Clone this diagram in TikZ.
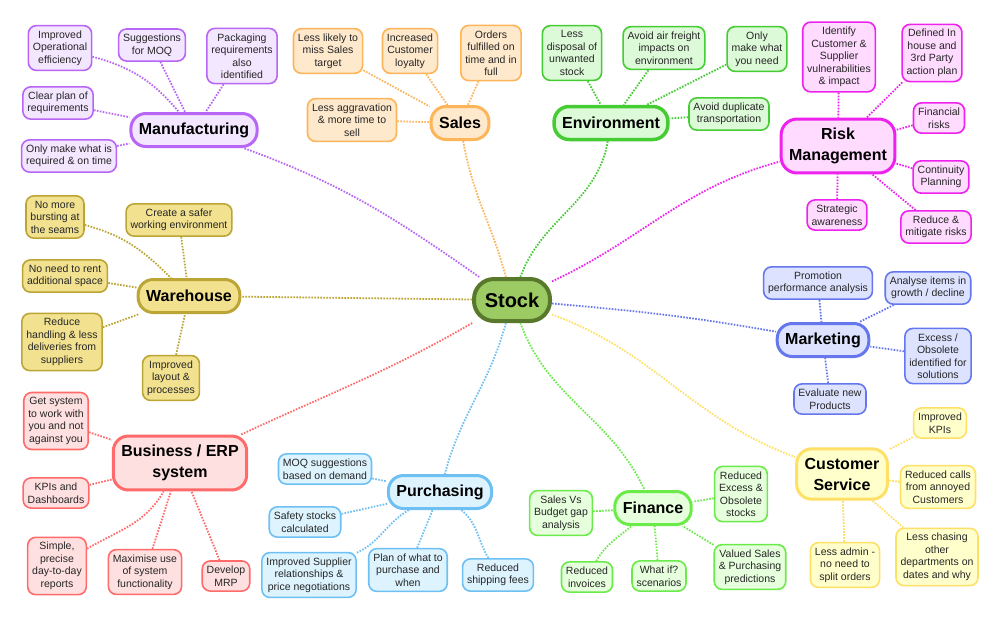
\documentclass[tikz,border=0pt]{standalone}
\usepackage{fontspec}
\setmainfont{Liberation Sans}

\definecolor{stockD}{HTML}{58782C}
\definecolor{stockF}{HTML}{9CCB63}
\definecolor{manuD}{HTML}{B866F5}
\definecolor{manuF}{HTML}{F3E6FF}
\definecolor{salesD}{HTML}{FDB55A}
\definecolor{salesF}{HTML}{FFE9CC}
\definecolor{envD}{HTML}{45CC33}
\definecolor{envF}{HTML}{DDFAD8}
\definecolor{riskD}{HTML}{EE22EE}
\definecolor{riskF}{HTML}{FFDBFF}
\definecolor{wareD}{HTML}{BBA535}
\definecolor{wareF}{HTML}{F2E290}
\definecolor{mktD}{HTML}{6677EE}
\definecolor{mktF}{HTML}{DDE3FF}
\definecolor{custD}{HTML}{FFE066}
\definecolor{custF}{HTML}{FFFFCC}
\definecolor{erpD}{HTML}{FF6B6B}
\definecolor{erpF}{HTML}{FFE0E0}
\definecolor{purD}{HTML}{6EC0F2}
\definecolor{purF}{HTML}{DDF4FF}
\definecolor{finD}{HTML}{6BEB4A}
\definecolor{finF}{HTML}{E6FFDD}

\begin{document}
\begin{tikzpicture}[x=1pt, y=1pt,
	leaf/.style={draw=#1D, fill=#1F, line width=1.6pt, rounded corners=8pt, align=center,
		inner xsep=4.5pt, inner ysep=5pt, text=black!85, font=\fontsize{10.5}{12.5}\selectfont},
	topic/.style={draw=#1D, fill=#1F, line width=3pt, rounded corners=15pt, align=center,
		inner xsep=8pt, inner ysep=6pt, minimum height=33pt, font=\fontsize{16}{21}\selectfont\bfseries},
	twoline/.style={inner ysep=9pt},
	link/.style={draw=#1D, line width=1.8pt, dash pattern=on 1.6pt off 1.4pt}]
	\fill[white] (0,0) rectangle (1000,-622);
	\useasboundingbox (0,0) rectangle (1000,-622);
	% centre
	\node[topic=stock, line width=4pt, rounded corners=20pt, minimum width=76pt, minimum height=42pt,
		font=\fontsize{20}{24}\selectfont\bfseries] (stock) at (512,-300) {Stock};
	% manufacturing
	\begin{scope}
	\node[topic=manu] (manu) at (194,-130) {Manufacturing};
	\node[leaf=manu] (manu1) at (60,-48) {Improved\\Operational\\efficiency};
	\node[leaf=manu] (manu2) at (152,-45) {Suggestions\\for MOQ};
	\node[leaf=manu] (manu3) at (242,-56) {Packaging\\requirements\\also\\identified};
	\node[leaf=manu] (manu4) at (58,-103) {Clear plan of\\requirements};
	\node[leaf=manu] (manu5) at (69,-156) {Only make what is\\required \& on time};
	\draw[link=manu] (manu1) to[out=-15, in=130] (manu);
	\foreach \l in {manu2, manu3, manu4, manu5}
		\draw[link=manu] (\l) -- (manu);
	\end{scope}
	% sales
	\begin{scope}
	\node[topic=sales] (sales) at (460,-123) {Sales};
	\node[leaf=sales] (sales1) at (328,-51) {Less likely to\\miss Sales\\target};
	\node[leaf=sales] (sales2) at (410,-51) {Increased\\Customer\\loyalty};
	\node[leaf=sales] (sales3) at (491,-53) {Orders\\fulfilled on\\time and in\\full};
	\node[leaf=sales] (sales4) at (352,-120) {Less aggravation\\\& more time to\\sell};
	\foreach \l in {sales1, sales2, sales3, sales4}
		\draw[link=sales] (\l) -- (sales);
	\end{scope}
	% environment
	\begin{scope}
	\node[topic=env, line width=3.5pt] (env) at (611,-123) {Environment};
	\node[leaf=env] (env1) at (572,-53) {Less\\disposal of\\unwanted\\stock};
	\node[leaf=env] (env2) at (664,-48) {Avoid air freight\\impacts on\\environment};
	\node[leaf=env] (env3) at (757,-49) {Only\\make what\\you need};
	\node[leaf=env] (env4) at (729,-114) {Avoid duplicate\\transportation};
	\foreach \l in {env1, env2, env3, env4}
		\draw[link=env] (\l) -- (env);
	\end{scope}
	% risk management
	\begin{scope}
	\node[topic=risk, twoline, rounded corners=16pt] (risk) at (838,-146) {Risk\\Management};
	\node[leaf=risk] (risk1) at (839,-57) {Identify\\Customer \&\\Supplier\\vulnerabilities\\\& impact};
	\node[leaf=risk] (risk2) at (932,-53) {Defined In\\house and\\3rd Party\\action plan};
	\node[leaf=risk] (risk3) at (939,-118) {Financial\\risks};
	\node[leaf=risk] (risk4) at (941,-177) {Continuity\\Planning};
	\node[leaf=risk] (risk5) at (936,-227) {Reduce \&\\mitigate risks};
	\node[leaf=risk] (risk6) at (837,-215) {Strategic\\awareness};
	\foreach \l in {risk1, risk2, risk3, risk4, risk5, risk6}
		\draw[link=risk] (\l) -- (risk);
	\end{scope}
	% warehouse
	\begin{scope}
	\node[topic=ware] (ware) at (189,-296) {Warehouse};
	\node[leaf=ware] (ware1) at (55,-217) {No more\\bursting at\\the seams};
	\node[leaf=ware] (ware2) at (65,-276) {No need to rent\\additional space};
	\node[leaf=ware] (ware3) at (62,-342) {Reduce\\handling \& less\\deliveries from\\suppliers};
	\node[leaf=ware] (ware4) at (179,-220) {Create a safer\\working environment};
	\node[leaf=ware] (ware5) at (171,-378) {Improved\\layout \&\\processes};
	\draw[link=ware] (ware1) to[out=-15, in=135] (ware);
	\foreach \l in {ware2, ware3, ware4, ware5}
		\draw[link=ware] (\l) -- (ware);
	\end{scope}
	% marketing
	\begin{scope}
	\node[topic=mkt] (mkt) at (823,-340) {Marketing};
	\node[leaf=mkt] (mkt1) at (818,-283) {Promotion\\performance analysis};
	\node[leaf=mkt] (mkt2) at (928,-288) {Analyse items in\\growth / decline};
	\node[leaf=mkt] (mkt3) at (938,-356) {Excess /\\Obsolete\\identified for\\solutions};
	\node[leaf=mkt] (mkt4) at (830,-399) {Evaluate new\\Products};
	\foreach \l in {mkt1, mkt2, mkt3, mkt4}
		\draw[link=mkt] (\l) -- (mkt);
	\end{scope}
	% customer service
	\begin{scope}
	\node[topic=cust, twoline] (cust) at (842,-474) {Customer\\Service};
	\node[leaf=cust] (cust1) at (940,-423) {Improved\\KPIs};
	\node[leaf=cust] (cust2) at (938,-487) {Reduced calls\\from annoyed\\Customers};
	\node[leaf=cust] (cust3) at (937,-557) {Less chasing\\other\\departments on\\dates and why};
	\node[leaf=cust] (cust4) at (845,-565) {Less admin -\\no need to\\split orders};
	\foreach \l in {cust1, cust2, cust3, cust4}
		\draw[link=cust] (\l) -- (cust);
	\end{scope}
	% business / erp
	\begin{scope}
	\node[topic=erp, twoline] (erp) at (180,-463) {Business / ERP\\system};
	\node[leaf=erp] (erp1) at (56,-421) {Get system\\to work with\\you and not\\against you};
	\node[leaf=erp] (erp2) at (56,-493) {KPIs and\\Dashboards};
	\node[leaf=erp] (erp3) at (57,-566) {Simple,\\precise\\day-to-day\\reports};
	\node[leaf=erp] (erp4) at (145,-572) {Maximise use\\of system\\functionality};
	\node[leaf=erp] (erp5) at (226,-576) {Develop\\MRP};
	\draw[link=erp] (erp3) to[out=30, in=-120] (erp);
	\foreach \l in {erp1, erp2, erp4, erp5}
		\draw[link=erp] (\l) -- (erp);
	\end{scope}
	% purchasing
	\begin{scope}
	\node[topic=pur] (pur) at (440,-492) {Purchasing};
	\node[leaf=pur] (pur1) at (325,-469) {MOQ suggestions\\based on demand};
	\node[leaf=pur] (pur2) at (305,-522) {Safety stocks\\calculated};
	\node[leaf=pur] (pur3) at (309,-575) {Improved Supplier\\relationships \&\\price negotiations};
	\node[leaf=pur] (pur4) at (408,-570) {Plan of what to\\purchase and\\when};
	\node[leaf=pur] (pur5) at (498,-575) {Reduced\\shipping fees};
	\draw[link=pur] (pur3) to[out=25, in=-150] (pur);
	\draw[link=pur] (pur5) to[out=120, in=-40] (pur);
	\foreach \l in {pur1, pur2, pur4}
		\draw[link=pur] (\l) -- (pur);
	\end{scope}
	% finance
	\begin{scope}
	\node[topic=fin] (fin) at (653,-508) {Finance};
	\node[leaf=fin] (fin1) at (561,-513) {Sales Vs\\Budget gap\\analysis};
	\node[leaf=fin] (fin2) at (587,-577) {Reduced\\invoices};
	\node[leaf=fin] (fin3) at (659,-576) {What if?\\scenarios};
	\node[leaf=fin] (fin4) at (741,-494) {Reduced\\Excess \&\\Obsolete\\stocks};
	\node[leaf=fin] (fin5) at (750,-567) {Valued Sales\\\& Purchasing\\predictions};
	\draw[link=fin] (fin2) to[out=60, in=-140] (fin);
	\foreach \l in {fin1, fin3, fin4, fin5}
		\draw[link=fin] (\l) -- (fin);
	\end{scope}
	% branches from the centre
	\draw[link=manu] (stock) to[out=145, in=-20] (manu);
	\draw[link=sales] (stock) to[out=105, in=-80] (sales);
	\draw[link=env] (stock) to[out=70, in=-100] (env);
	\draw[link=risk] (stock) to[out=25, in=195] (risk);
	\draw[link=ware] (stock) -- (ware);
	\draw[link=erp] (stock) to[out=210, in=25] (erp);
	\draw[link=pur] (stock) to[out=-105, in=75] (pur);
	\draw[link=fin] (stock) to[out=-70, in=115] (fin);
	\draw[link=mkt] (stock) to[out=-5, in=170] (mkt);
	\draw[link=cust] (stock) to[out=-20, in=160] (cust);
\end{tikzpicture}
\end{document}
